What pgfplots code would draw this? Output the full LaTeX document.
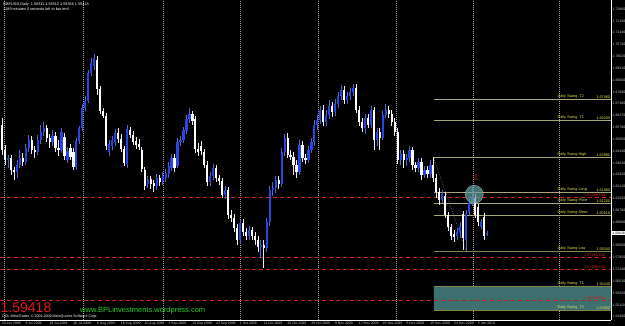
\documentclass[border=0pt]{standalone}
\usepackage{pgfplots}
\pgfplotsset{compat=1.18}
\usepackage{pgfplotstable}
\usepackage{fontspec}
\setmainfont{Liberation Sans}
\newfontfamily\symfont{DejaVu Sans}
\definecolor{candleblue}{RGB}{40,70,230}
\definecolor{wickblue}{RGB}{80,100,210}
\definecolor{lvl}{RGB}{165,165,120}
\definecolor{lvllow}{RGB}{130,130,70}
\definecolor{lbl}{RGB}{225,225,90}
\definecolor{reddash}{RGB}{200,35,35}
\definecolor{redlab}{RGB}{210,30,30}
\definecolor{boxteal}{RGB}{62,112,112}
\definecolor{circ}{RGB}{100,160,160}
\definecolor{mtred}{RGB}{225,25,25}
\definecolor{urlgreen}{RGB}{40,210,40}
\definecolor{ticklab}{RGB}{200,200,200}
\newcommand\tinyf{\fontsize{3.8}{4.2}\selectfont}
\newcommand\axf{\fontsize{3.45}{4}\selectfont}

\pgfplotstableread{
x o h l c
2 1.6380 1.6410 1.6332 1.6392
5 1.6308 1.6380 1.6272 1.6350
6 1.6350 1.6440 1.6332 1.6392
8 1.6368 1.6476 1.6350 1.6452
9 1.6452 1.6530 1.6428 1.6500
12 1.6428 1.6530 1.6410 1.6500
13 1.6500 1.6590 1.6476 1.6548
14 1.6548 1.6608 1.6524 1.6572
17 1.6488 1.6560 1.6464 1.6524
20 1.6440 1.6572 1.6422 1.6548
22 1.6380 1.6458 1.6362 1.6434
25 1.6338 1.6512 1.6320 1.6494
26 1.6494 1.6584 1.6476 1.6572
27 1.6572 1.6716 1.6554 1.6692
28 1.6692 1.6764 1.6674 1.6734
29 1.6734 1.6920 1.6722 1.6902
30 1.6902 1.6992 1.6884 1.6962
31 1.6944 1.7016 1.6920 1.6992
36 1.6428 1.6500 1.6404 1.6476
37 1.6464 1.6524 1.6440 1.6500
38 1.6488 1.6566 1.6464 1.6542
42 1.6356 1.6590 1.6332 1.6566
49 1.6236 1.6284 1.6212 1.6260
52 1.6224 1.6296 1.6200 1.6272
54 1.6254 1.6308 1.6230 1.6284
55 1.6272 1.6326 1.6248 1.6302
56 1.6296 1.6368 1.6272 1.6344
57 1.6332 1.6416 1.6314 1.6392
59 1.6344 1.6512 1.6332 1.6488
60 1.6488 1.6524 1.6464 1.6500
61 1.6500 1.6578 1.6482 1.6560
62 1.6554 1.6650 1.6536 1.6626
63 1.6626 1.6692 1.6602 1.6656
70 1.6248 1.6308 1.6224 1.6284
71 1.6284 1.6356 1.6260 1.6332
75 1.6170 1.6224 1.6146 1.6200
80 1.5900 1.6020 1.5876 1.6002
83 1.5924 1.5984 1.5900 1.5960
87 1.5858 1.5900 1.5792 1.5870
89 1.5852 1.6032 1.5828 1.6008
90 1.6008 1.6224 1.5984 1.6200
91 1.6200 1.6248 1.6164 1.6212
92 1.6212 1.6284 1.6182 1.6260
94 1.6236 1.6452 1.6218 1.6428
95 1.6428 1.6536 1.6404 1.6512
100 1.6308 1.6500 1.6290 1.6470
103 1.6380 1.6464 1.6362 1.6440
104 1.6440 1.6512 1.6422 1.6488
105 1.6488 1.6620 1.6464 1.6590
106 1.6590 1.6650 1.6560 1.6620
107 1.6620 1.6704 1.6596 1.6680
109 1.6608 1.6680 1.6584 1.6650
110 1.6650 1.6740 1.6626 1.6704
112 1.6668 1.6746 1.6644 1.6716
113 1.6716 1.6788 1.6692 1.6764
114 1.6764 1.6830 1.6740 1.6800
116 1.6740 1.6788 1.6716 1.6764
117 1.6764 1.6812 1.6740 1.6788
118 1.6788 1.6836 1.6764 1.6812
122 1.6572 1.6656 1.6536 1.6632
124 1.6590 1.6704 1.6572 1.6680
126 1.6500 1.6572 1.6464 1.6548
128 1.6512 1.6674 1.6500 1.6650
129 1.6650 1.6716 1.6632 1.6680
134 1.6380 1.6440 1.6350 1.6416
136 1.6380 1.6416 1.6344 1.6392
137 1.6392 1.6464 1.6368 1.6440
140 1.6332 1.6392 1.6308 1.6368
142 1.6290 1.6344 1.6272 1.6320
144 1.6296 1.6380 1.6272 1.6350
148 1.6140 1.6200 1.6122 1.6176
153 1.5924 1.5972 1.5900 1.5948
154 1.5942 1.6008 1.5912 1.5984
156 1.5900 1.6080 1.5834 1.6056
157 1.6068 1.6146 1.6050 1.6122
158 1.6122 1.6218 1.6104 1.6158
161 1.5978 1.6026 1.5966 1.6008
163 1.5930 1.5954 1.5924 1.5942
}\uptab

\pgfplotstableread{
x o h l c
0 1.6590 1.6632 1.6410 1.6440
1 1.6440 1.6470 1.6350 1.6380
3 1.6392 1.6410 1.6290 1.6320
4 1.6320 1.6338 1.6260 1.6308
7 1.6392 1.6422 1.6344 1.6368
10 1.6500 1.6524 1.6416 1.6440
11 1.6440 1.6464 1.6392 1.6428
15 1.6572 1.6590 1.6488 1.6512
16 1.6512 1.6536 1.6452 1.6488
18 1.6524 1.6548 1.6428 1.6452
19 1.6452 1.6500 1.6404 1.6440
21 1.6518 1.6542 1.6380 1.6404
23 1.6452 1.6476 1.6380 1.6398
24 1.6428 1.6452 1.6320 1.6338
32 1.6980 1.7004 1.6770 1.6806
33 1.6806 1.6824 1.6656 1.6674
34 1.6674 1.6692 1.6632 1.6644
35 1.6644 1.6662 1.6440 1.6464
39 1.6542 1.6572 1.6482 1.6506
40 1.6506 1.6536 1.6428 1.6446
41 1.6446 1.6464 1.6344 1.6362
43 1.6560 1.6578 1.6512 1.6530
44 1.6530 1.6554 1.6470 1.6488
45 1.6494 1.6518 1.6446 1.6470
46 1.6476 1.6506 1.6440 1.6458
47 1.6440 1.6458 1.6308 1.6326
48 1.6320 1.6338 1.6200 1.6224
50 1.6266 1.6284 1.6206 1.6236
51 1.6242 1.6260 1.6188 1.6224
53 1.6272 1.6290 1.6224 1.6248
58 1.6392 1.6416 1.6308 1.6332
64 1.6656 1.6674 1.6590 1.6614
65 1.6626 1.6644 1.6422 1.6446
66 1.6446 1.6482 1.6404 1.6428
67 1.6464 1.6494 1.6410 1.6434
68 1.6428 1.6446 1.6332 1.6350
69 1.6350 1.6374 1.6224 1.6248
72 1.6332 1.6350 1.6248 1.6272
73 1.6272 1.6290 1.6230 1.6254
74 1.6254 1.6272 1.6152 1.6170
76 1.6200 1.6218 1.6026 1.6050
77 1.6050 1.6080 1.6008 1.6032
78 1.6032 1.6056 1.5948 1.5972
79 1.5972 1.5996 1.5870 1.5900
81 1.6002 1.6026 1.5924 1.5948
82 1.5948 1.5972 1.5900 1.5924
84 1.5960 1.5978 1.5900 1.5924
85 1.5924 1.5948 1.5870 1.5900
86 1.5900 1.5924 1.5828 1.5858
88 1.5870 1.5900 1.5732 1.5852
93 1.6260 1.6284 1.6206 1.6236
96 1.6512 1.6542 1.6392 1.6410
97 1.6410 1.6440 1.6380 1.6398
98 1.6398 1.6428 1.6290 1.6350
99 1.6350 1.6380 1.6272 1.6308
101 1.6470 1.6494 1.6368 1.6392
102 1.6392 1.6416 1.6356 1.6380
108 1.6680 1.6710 1.6584 1.6608
111 1.6704 1.6728 1.6638 1.6668
115 1.6800 1.6824 1.6716 1.6740
119 1.6812 1.6836 1.6662 1.6680
120 1.6680 1.6704 1.6584 1.6608
121 1.6608 1.6632 1.6548 1.6572
123 1.6632 1.6656 1.6572 1.6590
125 1.6680 1.6698 1.6440 1.6500
127 1.6548 1.6572 1.6440 1.6512
130 1.6680 1.6704 1.6632 1.6656
131 1.6656 1.6680 1.6584 1.6608
132 1.6608 1.6632 1.6524 1.6548
133 1.6548 1.6572 1.6356 1.6380
135 1.6416 1.6440 1.6332 1.6380
138 1.6440 1.6458 1.6320 1.6350
139 1.6350 1.6368 1.6308 1.6332
141 1.6368 1.6392 1.6260 1.6290
143 1.6320 1.6344 1.6272 1.6296
145 1.6350 1.6398 1.6248 1.6272
146 1.6272 1.6296 1.6152 1.6188
147 1.6188 1.6212 1.6110 1.6140
149 1.6164 1.6188 1.6032 1.6050
150 1.6050 1.6068 1.5954 1.5978
151 1.5978 1.5996 1.5900 1.5924
152 1.5936 1.5960 1.5888 1.5918
155 1.6056 1.6074 1.5840 1.5912
159 1.6152 1.6176 1.6032 1.6050
160 1.6098 1.6116 1.5984 1.6008
162 1.6038 1.6062 1.5900 1.5924
}\downtab

\begin{document}
\begin{tikzpicture}
\useasboundingbox (0,0) rectangle (625pt,326pt);
\fill[black] (0,0) rectangle (625pt,326pt);
\begin{axis}[
  at={(0pt,6pt)}, anchor=south west,
  scale only axis, width=611pt, height=320pt,
  xmin=-0.672, xmax=204.7, ymin=1.542, ymax=1.734,
  axis x line*=bottom, axis y line*=right,
  axis line style={white, line width=0.6pt},
  tick align=outside, major tick length=1.2pt,
  tick style={white, line width=0.4pt},
  xtick={0,8,...,160},
  xticklabels={30 Jun 2009,9 Jul 2009,19 Jul 2009,28 Jul 2009,6 Aug 2009,16 Aug 2009,25 Aug 2009,3 Sep 2009,13 Sep 2009,22 Sep 2009,1 Oct 2009,11 Oct 2009,20 Oct 2009,29 Oct 2009,8 Nov 2009,17 Nov 2009,26 Nov 2009,6 Dec 2009,15 Dec 2009,24 Dec 2009,5 Jan 2010},
  ytick={1.5440,1.5511,1.5582,1.5653,1.5724,1.5795,1.5866,1.6008,1.6079,1.6150,1.6221,1.6292,1.6363,1.6434,1.6505,1.6576,1.6647,1.6718,1.6789,1.6860,1.6931,1.7002,1.7073,1.7144,1.7215,1.7286},
  yticklabels={1.54400,1.55110,1.55820,1.56530,1.57240,1.57950,1.58660,1.60080,1.60790,1.61500,1.62210,1.62920,1.63630,1.64340,1.65050,1.65760,1.66470,1.67180,1.67890,1.68600,1.69310,1.70020,1.70730,1.71440,1.72150,1.72860},
  ticklabel style={font=\axf, text=ticklab, inner sep=0.3pt},
  xticklabel style={anchor=north west, xshift=-0.6pt, yshift=-0.4pt},
  yticklabel style={anchor=west},
  extra x ticks={0.67,27.2,54.1,80,106.2,132.4,158.3,187.2},
  extra x tick labels={},
  extra x tick style={grid=major, major tick length=0pt,
     major grid style={gray!70, line width=0.4pt, dash pattern=on 0.6pt off 1.4pt}},
]
% teal target zone
\addplot[draw=none, fill=boxteal] coordinates {(145.2,1.5480) (204.7,1.5480) (204.7,1.5624) (145.2,1.5624) (145.2,1.5480)};
% swing levels
\addplot[lvl, line width=0.7pt] coordinates {(145.2,1.6746) (204.7,1.6746)};
\addplot[lvl, line width=0.7pt] coordinates {(145.2,1.6620) (204.7,1.6620)};
\addplot[lvl, line width=0.7pt] coordinates {(145.2,1.6398) (204.7,1.6398)};
\addplot[lvl, line width=0.7pt] coordinates {(145.2,1.6188) (204.7,1.6188)};
\addplot[lvl, line width=0.7pt] coordinates {(145.2,1.6122) (204.7,1.6122)};
\addplot[lvl, line width=0.7pt] coordinates {(145.2,1.6050) (204.7,1.6050)};
\addplot[lvllow, line width=0.8pt] coordinates {(145.2,1.5834) (204.7,1.5834)};
\addplot[lvllow, line width=0.8pt] coordinates {(145.2,1.5624) (204.7,1.5624)};
\addplot[lvllow, line width=0.8pt] coordinates {(145.2,1.5480) (204.7,1.5480)};
% red dashed lines
\addplot[reddash, line width=0.9pt, dash pattern=on 4pt off 3pt] coordinates {(-0.672,1.6158) (204.7,1.6158)};
\addplot[reddash, line width=0.9pt, dash pattern=on 4pt off 3pt] coordinates {(-0.672,1.5798) (204.7,1.5798)};
\addplot[reddash, line width=0.9pt, dash pattern=on 4pt off 3pt] coordinates {(-0.672,1.5726) (204.7,1.5726)};
\addplot[reddash, line width=0.9pt, dash pattern=on 4pt off 3pt] coordinates {(-0.672,1.5540) (204.7,1.5540)};
% swing diagonal
\addplot[gray!80, line width=0.5pt, dash pattern=on 0.6pt off 1.2pt] coordinates {(145,1.6398) (156,1.5834)};
% wicks
\addplot[draw=none, mark=none, error bars/.cd, y dir=both, y explicit, error mark=none,
  error bar style={draw=wickblue, line width=0.7pt}]
  table[x=x, y expr={(\thisrow{h}+\thisrow{l})/2}, y error expr={(\thisrow{h}-\thisrow{l})/2}] {\uptab};
\addplot[draw=none, mark=none, error bars/.cd, y dir=both, y explicit, error mark=none,
  error bar style={draw=white!85!gray, line width=0.7pt}]
  table[x=x, y expr={(\thisrow{h}+\thisrow{l})/2}, y error expr={(\thisrow{h}-\thisrow{l})/2}] {\downtab};
% bodies
\addplot[draw=none, mark=none, error bars/.cd, y dir=both, y explicit, error mark=none,
  error bar style={draw=candleblue, line width=2.2pt}]
  table[x=x, y expr={(\thisrow{o}+\thisrow{c})/2}, y error expr={abs(\thisrow{c}-\thisrow{o})/2}] {\uptab};
\addplot[draw=none, mark=none, error bars/.cd, y dir=both, y explicit, error mark=none,
  error bar style={draw=white, line width=2.2pt}]
  table[x=x, y expr={(\thisrow{o}+\thisrow{c})/2}, y error expr={abs(\thisrow{c}-\thisrow{o})/2}] {\downtab};
% circle and arrow
\addplot[only marks, mark=*, mark size=9pt, mark options={fill=circ, draw=circ!60!white, fill opacity=0.72, draw opacity=0.8, line width=0.4pt}] coordinates {(158.75,1.6174)};
\addplot[only marks, mark=none, nodes near coords={\symfont\symbol{"21E9}},
  every node near coord/.style={anchor=center, text=mtred, font=\fontsize{8}{8}\selectfont, inner sep=0pt}]
  coordinates {(159.3,1.6276)};
% level labels
\tikzset{lab/.style={anchor=south west, text=lbl, font=\tinyf, inner sep=0.4pt},
         val/.style={anchor=south east, text=lbl, font=\tinyf, inner sep=0.4pt},
         rval/.style={anchor=south east, text=redlab, font=\tinyf, inner sep=0.4pt}}
\node[lab] at (axis cs:186.55,1.6746) {Daily Swing\ \ T2};
\node[lab] at (axis cs:186.55,1.6620) {Daily Swing\ \ T1};
\node[lab] at (axis cs:186.55,1.6398) {Daily Swing High};
\node[lab] at (axis cs:186.55,1.6188) {Daily Swing Long};
\node[lab] at (axis cs:186.55,1.6122) {Daily Swing Price};
\node[lab] at (axis cs:186.55,1.6050) {Daily Swing Short};
\node[lab] at (axis cs:186.55,1.5834) {Daily Swing Low};
\node[lab] at (axis cs:186.55,1.5624) {Daily Swing\ \ T1};
\node[lab] at (axis cs:186.55,1.5480) {Daily Swing\ \ T2};
\node[val] at (axis cs:204.6,1.6746) {1.67460};
\node[val] at (axis cs:204.6,1.6620) {1.66200};
\node[val] at (axis cs:204.6,1.6398) {1.63980};
\node[val] at (axis cs:204.6,1.6188) {1.61880};
\node[val] at (axis cs:204.6,1.6122) {1.61220};
\node[val] at (axis cs:204.6,1.6050) {1.60516};
\node[val] at (axis cs:204.6,1.5834) {1.58340};
\node[val] at (axis cs:204.6,1.5624) {1.56240};
\node[val] at (axis cs:204.6,1.5480) {1.54800};
\node[rval] at (axis cs:203.0,1.6158) {1.61580 500};
\node[rval] at (axis cs:203.0,1.5798) {1.57980 500};
\node[rval] at (axis cs:203.0,1.5726) {1.57260 500};
\node[rval] at (axis cs:203.0,1.5540) {1.55400 500};
\coordinate (pr) at (axis cs:204.7,1.59418);
\end{axis}
\node[fill=white, text=black, anchor=west, inner sep=0.4pt, minimum height=4.6pt, font=\axf] at ([xshift=0.8pt]pr) {1.59418};
\node[anchor=base west, text=white, font=\tinyf, inner sep=0] at (3pt,320pt) {GBPUSD,Daily\ \ 1.59311 1.59512 1.59366 1.59418};
\node[anchor=base west, text=white, font=\tinyf, inner sep=0] at (3pt,315pt) {1289 minutes 0 seconds left to bar end};
\node[anchor=base west, text=mtred, font=\fontsize{14}{14}\selectfont, inner sep=0] at (0.5pt,13pt) {1.59418};
\node[anchor=base west, text=urlgreen, font=\fontsize{7.5}{8}\selectfont, inner sep=0] at (80pt,13pt) {www.BPLinvestments.wordpress.com};
\node[anchor=base west, text=white, font=\fontsize{3.6}{4}\selectfont, inner sep=0] at (2pt,8.5pt) {ODL MetaTrader, © 2001-2009 MetaQuotes Software Corp.};
\end{tikzpicture}
\end{document}
